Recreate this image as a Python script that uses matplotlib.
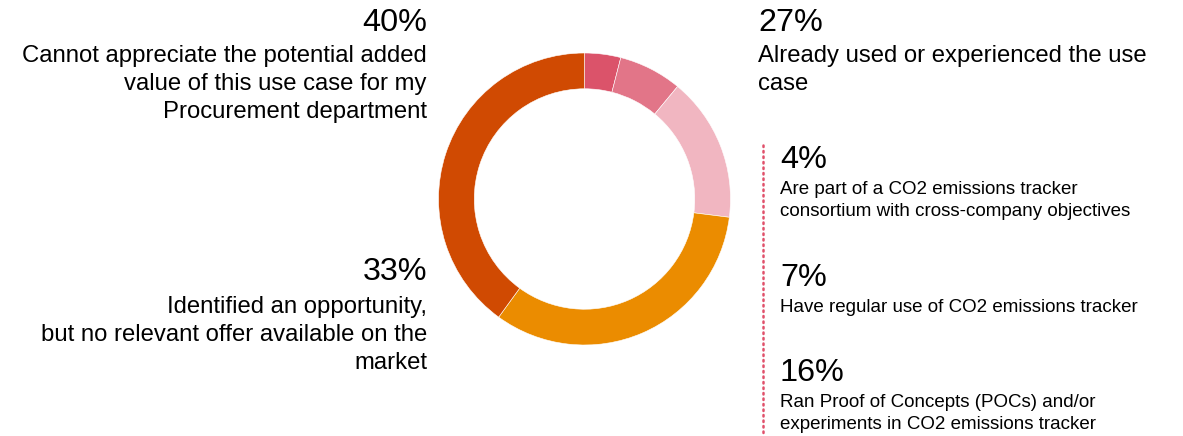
import matplotlib
matplotlib.use("Agg")
import matplotlib.pyplot as plt

plt.rcParams['font.family'] = ['Liberation Sans', 'DejaVu Sans']

# Data (clockwise from 12 o'clock)
labels = ["Are part of a CO2 emissions tracker consortium",
          "Have regular use of CO2 emissions tracker",
          "Ran POCs and/or experiments",
          "Identified an opportunity, no offer",
          "Cannot appreciate the potential added value"]
values = [4, 7, 16, 33, 40]
colors = ["#DB536A", "#E27588", "#F1B6C1", "#EB8C00", "#D04A02"]

left_blocks = [
    ("40%", ["Cannot appreciate the potential added",
             "value of this use case for my",
             "Procurement department"]),
    ("33%", ["Identified an opportunity,",
             "but no relevant offer available on the",
             "market"]),
]
right_main = ("27%", ["Already used or experienced the use", "case"])
right_sub = [
    ("4%", ["Are part of a CO2 emissions tracker",
            "consortium with cross-company objectives"]),
    ("7%", ["Have regular use of CO2 emissions tracker"]),
    ("16%", ["Ran Proof of Concepts (POCs) and/or",
             "experiments in CO2 emissions tracker"]),
]

W, H = 1183, 436
fig = plt.figure(figsize=(W / 100, H / 100), dpi=100)

# overlay axes in pixel coordinates
ov = fig.add_axes([0, 0, 1, 1])
ov.set_xlim(0, W)
ov.set_ylim(H, 0)
ov.axis('off')

# donut
cx, cy, R = 584.5, 199, 146
pax = fig.add_axes([(cx - R) / W, (H - cy - R) / H, 2 * R / W, 2 * R / H])
pax.pie(values, colors=colors, startangle=90, counterclock=False, radius=1,
        wedgeprops=dict(width=0.245, edgecolor='white', linewidth=0.4))
pax.set_xlim(-1, 1)
pax.set_ylim(-1, 1)
pax.axis('off')

BIG, MID, SMALL = 23.3, 17.2, 13.5

# left blocks
left_base = [(31, [62, 90, 118]), (280, [313, 341, 369])]
for (pct, lines), (b0, bl) in zip(left_blocks, left_base):
    ov.text(427, b0, pct, fontsize=BIG, ha='right', va='baseline', color='#000000')
    for t, b in zip(lines, bl):
        ov.text(427, b, t, fontsize=MID, ha='right', va='baseline', color='#000000')

# right main
ov.text(758, 31, right_main[0], fontsize=BIG, ha='left', va='baseline', color='#000000')
for t, b in zip(right_main[1], [62, 90]):
    ov.text(758, b, t, fontsize=MID, ha='left', va='baseline', color='#000000')

# dotted line
ov.plot([763, 763], [145, 436], linestyle=(0, (0.6, 1.6)), color='#E0506A',
        linewidth=1.8, solid_capstyle='round', dash_capstyle='round')

sub_base = [(168, [194, 216]), (286, [312]), (381, [407, 429])]
for (pct, lines), (b0, bl) in zip(right_sub, sub_base):
    ov.text(780, b0, pct, fontsize=BIG, ha='left', va='baseline', color='#000000')
    for t, b in zip(lines, bl):
        ov.text(780, b, t, fontsize=SMALL, ha='left', va='baseline', color='#000000')

fig.savefig("out.png", dpi=100)
